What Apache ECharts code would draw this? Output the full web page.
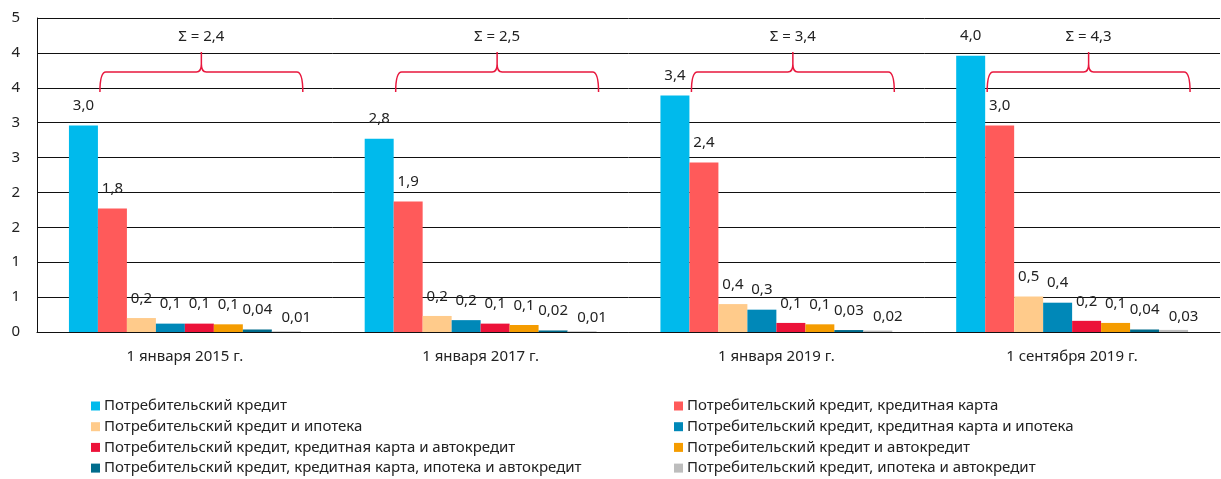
<!DOCTYPE html>
<html>
<head>
<meta charset="utf-8">
<script src="https://cdn.jsdelivr.net/npm/echarts@6/dist/echarts.min.js"></script>
<style>
  body { margin: 0; background: #fff; }
  #chart { width: 1221px; height: 479px; }
</style>
</head>
<body>
<div id="chart"></div>
<script>
// данные с картинки
const categories = ['1 января 2015 г.', '1 января 2017 г.', '1 января 2019 г.', '1 сентября 2019 г.']
const seriesNames = [
  'Потребительский кредит',
  'Потребительский кредит, кредитная карта',
  'Потребительский кредит и ипотека',
  'Потребительский кредит, кредитная карта и ипотека',
  'Потребительский кредит, кредитная карта и автокредит',
  'Потребительский кредит и автокредит',
  'Потребительский кредит, кредитная карта, ипотека и автокредит',
  'Потребительский кредит, ипотека и автокредит'
]
const consumer        = [2.96, 2.77, 3.39, 3.96]
const consumerCard    = [1.77, 1.87, 2.43, 2.96]
const consumerMort    = [0.20, 0.23, 0.40, 0.51]
const cardMort        = [0.12, 0.17, 0.32, 0.42]
const cardAuto        = [0.12, 0.12, 0.13, 0.16]
const consumerAuto    = [0.11, 0.10, 0.11, 0.13]
const cardMortAuto    = [0.036, 0.022, 0.028, 0.036]
const mortAuto        = [0.01, 0.01, 0.02, 0.03]
const sumLabels = ['2,4', '2,5', '3,4', '4,3']

const values = [consumer, consumerCard, consumerMort, cardMort, cardAuto, consumerAuto, cardMortAuto, mortAuto]
const colors = ['#00BAEC', '#FF5A5A', '#FFCB8B', '#0088B8', '#EC1239', '#F59C00', '#006C8C', '#BDBDBD']

const font = 'Noto Sans'
const gapPct = 21.6

function fmt(v) {
  const s = v >= 0.095 ? v.toFixed(1) : v.toFixed(2)
  return s.replace('.', ',')
}

const bars = values.map((arr, i) => ({
  name: seriesNames[i],
  type: 'bar',
  data: arr,
  barGap: 0,
  barCategoryGap: gapPct + '%',
  itemStyle: { color: colors[i] },
  label: {
    show: true,
    position: 'top',
    distance: 12,
    offset: i === 7 ? [10, 6] : [0, 0],
    fontFamily: font,
    fontSize: 15,
    color: '#222',
    formatter: p => fmt(p.value)
  }
}))

// фигурные скобки над столбцами 2..8
const braces = {
  type: 'custom',
  name: 'braces',
  silent: true,
  clip: false,
  z: 5,
  data: sumLabels.map((_, i) => [i]),
  encode: { x: 0 },
  renderItem: function (params, api) {
    const idx = api.value(0)
    const c = api.coord([idx, 0])
    const band = api.size([1, 0])[0]
    const groupW = band * (1 - gapPct / 100)
    const barW = groupW / 8
    const left = c[0] - groupW / 2 + barW + 2
    const right = c[0] + groupW / 2 + 2
    const cx = (left + right) / 2
    const top = api.coord([idx, 4.5])[1]
    const lineY = top + 54
    const tipY = top + 74
    const peakY = top + 34
    const r = 6
    const d = [
      'M', left, tipY,
      'Q', left, lineY, left + r, lineY,
      'L', cx - 5, lineY,
      'Q', cx, lineY, cx, lineY - 8,
      'L', cx, peakY,
      'M', cx, lineY - 8,
      'Q', cx, lineY, cx + 5, lineY,
      'L', right - r, lineY,
      'Q', right, lineY, right, tipY
    ].join(' ')
    return {
      type: 'group',
      children: [
        {
          type: 'path',
          shape: { pathData: d },
          style: { fill: null, stroke: '#E8173D', lineWidth: 1.5 }
        },
        {
          type: 'text',
          x: cx,
          y: top + 19,
          style: {
            text: 'Σ = ' + sumLabels[params.dataIndex],
            fontFamily: font,
            fontSize: 15,
            fill: '#222',
            align: 'center',
            verticalAlign: 'middle'
          }
        }
      ]
    }
  }
}

const legendCommon = {
  orient: 'vertical',
  top: 393,
  height: 82,
  itemWidth: 9,
  itemHeight: 9,
  itemGap: 4.7,
  icon: 'rect',
  selectedMode: false,
  textStyle: { fontFamily: font, fontSize: 15, lineHeight: 16, color: '#222', padding: [0, 0, 0, -1] }
}

const chart = echarts.init(document.getElementById('chart'))
chart.setOption({
  animation: false,
  color: colors,
  grid: { left: 37, right: 1, top: 18, bottom: 147 },
  legend: [
    Object.assign({ left: 86, data: [seriesNames[0], seriesNames[2], seriesNames[4], seriesNames[6]] }, legendCommon),
    Object.assign({ left: 669, data: [seriesNames[1], seriesNames[3], seriesNames[5], seriesNames[7]] }, legendCommon)
  ],
  xAxis: {
    type: 'category',
    data: categories,
    axisLine: { lineStyle: { color: '#111', width: 1 } },
    axisTick: { show: false },
    axisLabel: { margin: 17, fontFamily: font, fontSize: 15, color: '#222' }
  },
  yAxis: {
    type: 'value',
    min: 0,
    max: 4.5,
    interval: 0.5,
    axisLine: { show: true, lineStyle: { color: '#111', width: 1 } },
    axisTick: { show: false },
    splitLine: { lineStyle: { color: '#111', width: 1 } },
    axisLabel: {
      margin: 17,
      fontFamily: font,
      fontSize: 15,
      color: '#222',
      formatter: v => String(Math.round(v))
    }
  },
  series: bars.concat([braces])
})
</script>
</body>
</html>
